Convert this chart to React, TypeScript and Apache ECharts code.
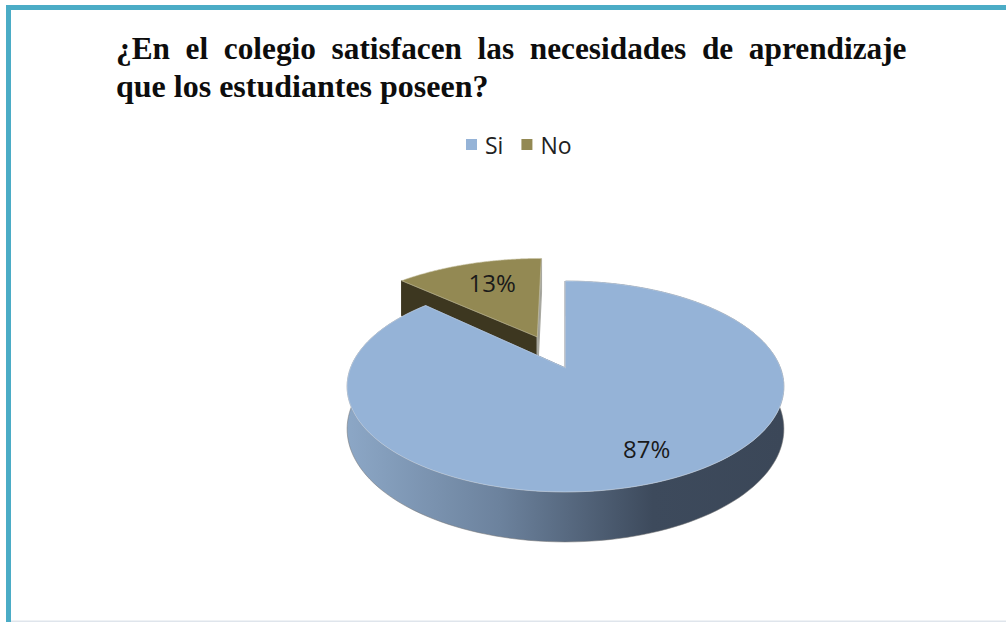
import React, { useEffect, useRef } from "react";
import * as echarts from "echarts";

const titleLines = ["¿En  el  colegio  satisfacen  las  necesidades  de  aprendizaje", "que los estudiantes poseen?"];
const categories = ["Si", "No"];
const values = [87, 13];
const labels = ["87%", "13%"];
const topColors = ["#95b3d7", "#938953"];

const apexX = 565.5, apexY = 368, R = 215, H = 102.2, P = 0.1755, DEPTH = 41.2;

function project(u: number, v: number, drop = 0): number[] {
  const w = 1 / (1 - P * v);
  return [apexX + R * u * w, apexY + H * v * w + drop * w];
}

function renderSlice(index: number, explode: number, uScale: number) {
  const total = values.reduce((a, b) => a + b, 0);
  const start = (values.slice(0, index).reduce((a, b) => a + b, 0) / total) * Math.PI * 2;
  const end = start + (values[index] / total) * Math.PI * 2;
  const mid = (start + end) / 2;
  const ox = Math.sin(mid) * explode;
  const oy = -Math.cos(mid) * explode;
  const pt = (a: number, drop = 0) => project(Math.sin(a) * uScale + ox, -Math.cos(a) + oy, drop);
  const apex = (drop = 0) => project(ox, oy, drop);
  const steps = 160;
  const arc: number[][] = [];
  const arcLow: number[][] = [];
  for (let i = 0; i <= steps; i++) {
    const a = start + ((end - start) * i) / steps;
    arc.push(pt(a));
    arcLow.push(pt(a, DEPTH));
  }
  const isSi = index === 0;
  const children: any[] = [];
  const grayFace = isSi
    ? { fill: "#7f8791", stroke: "#8b9098", lineWidth: 2 }
    : { fill: "#8f8f88", stroke: "#a8a8a0", lineWidth: 1.5 };
  const darkFace = { fill: isSi ? "#6d7f98" : "#3d3720", stroke: isSi ? "#6d7f98" : "#3d3720", lineWidth: 1 };
  children.push({
    type: "polygon",
    shape: { points: [apex(), pt(start), pt(start, DEPTH), apex(DEPTH)] },
    style: isSi ? grayFace : darkFace,
  });
  children.push({
    type: "polygon",
    shape: { points: [apex(), pt(end), pt(end, DEPTH), apex(DEPTH)] },
    style: isSi ? darkFace : grayFace,
  });
  if (isSi) {
    children.push({
      type: "polygon",
      shape: { points: [...arc, ...arcLow.slice().reverse()] },
      style: {
        fill: new echarts.graphic.LinearGradient(0, 0, 1, 0, [
          { offset: 0, color: "#8ca7c6" },
          { offset: 0.35, color: "#6c829d" },
          { offset: 0.7, color: "#3d4a5c" },
          { offset: 1, color: "#3b4758" },
        ]),
        stroke: "rgba(120,120,120,0.55)",
        lineWidth: 1,
      },
    });
  }
  children.push({
    type: "polygon",
    shape: { points: [apex(), ...arc] },
    style: { fill: topColors[index], stroke: isSi ? "#c5d4e6" : "#c9c5a6", lineWidth: 0.6 },
  });
  const labelPos = isSi ? project(0.332, 0.69) : project(-0.4, -0.98);
  children.push({
    type: "text",
    x: labelPos[0],
    y: labelPos[1],
    style: {
      text: labels[index],
      fill: "#1a1a1a",
      font: '24px "Open Sans"',
      align: "center",
      verticalAlign: "middle",
    },
  });
  return { type: "group", children };
}

export default function App() {
  const ref = useRef<HTMLDivElement>(null);
  useEffect(() => {
    document.body.style.margin = "0";
    const chart = echarts.init(ref.current!, null, { renderer: "svg" });
    chart.setOption({
      animation: false,
      backgroundColor: "#ffffff",
      title: {
        text: `{a|${titleLines[0]}}\n{b|${titleLines[1]}}`,
        left: 116,
        top: 30,
        padding: 0,
        textStyle: {
          rich: {
            a: { fontFamily: '"Liberation Serif"', fontWeight: "bold", fontSize: 31.3, lineHeight: 37, color: "#0d0d0d" },
            b: { fontFamily: '"Liberation Serif"', fontWeight: "bold", fontSize: 32, lineHeight: 37, color: "#0d0d0d" },
          },
        },
      },
      legend: {
        data: categories,
        left: 466,
        top: 133,
        padding: 0,
        icon: "rect",
        itemWidth: 11,
        itemHeight: 11,
        itemGap: 18,
        textStyle: { fontFamily: '"Open Sans"', fontSize: 23, color: "#222222", padding: [0, 0, 0, 3] },
      },
      graphic: [
        { type: "rect", shape: { x: 6, y: 5, width: 1000, height: 5 }, style: { fill: "#4bacc6" } },
        { type: "rect", shape: { x: 6, y: 5, width: 5, height: 617 }, style: { fill: "#4bacc6" } },
        { type: "rect", shape: { x: 11, y: 620.5, width: 995, height: 1.5 }, style: { fill: "#dfe5ec" } },
      ],
      series: [
        {
          name: categories[1],
          type: "custom",
          coordinateSystem: "none",
          itemStyle: { color: topColors[1] },
          data: [values[1]],
          renderItem: () => renderSlice(1, 0.349, 1.04),
        },
        {
          name: categories[0],
          type: "custom",
          coordinateSystem: "none",
          itemStyle: { color: topColors[0] },
          data: [values[0]],
          renderItem: () => renderSlice(0, 0, 1),
        },
      ],
    });
    return () => chart.dispose();
  }, []);
  return <div ref={ref} style={{ width: 1006, height: 622 }} />;
}
